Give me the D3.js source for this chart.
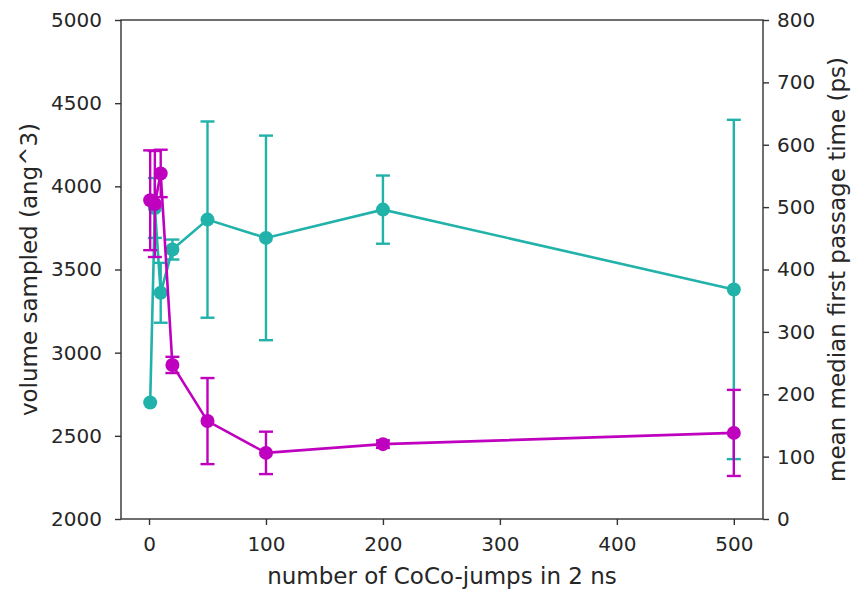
<!DOCTYPE html>
<html>
<head>
<meta charset="utf-8">
<script src="https://cdn.jsdelivr.net/npm/d3@7"></script>
<style>
  body { margin: 0; background: #fff; }
  svg text { font-family: "DejaVu Sans", sans-serif; fill: #262626; }
  .axis path, .axis line { stroke: #333; stroke-width: 1.4; }
</style>
</head>
<body>
<svg id="chart"></svg>
<script>
// CoCo-jumps: volume sampled (left axis) and mean first passage time (right axis)
const jumps = [1, 5, 10, 20, 50, 100, 200, 500];
const volume = [2700, 3870, 3360, 3620, 3800, 3690, 3860, 3380];
const volumeErr = [0, 180, 180, 60, 590, 615, 205, 1020];
const passage = [511, 505, 554, 247, 157, 106, 120, 138];
const passageErr = [80, 85, 38, 13, 69, 34, 6, 69];

const xTicks = [0, 100, 200, 300, 400, 500];
const yLeftTicks = [2000, 2500, 3000, 3500, 4000, 4500, 5000];
const yRightTicks = [0, 100, 200, 300, 400, 500, 600, 700, 800];

const width = 858;
const height = 591;
const margin = { left: 121, right: 95, top: 20, bottom: 72 };
const tickFont = "20px";
const labelFont = "23px";

const svg = d3.select("#chart")
  .attr("width", width)
  .attr("height", height);

// matplotlib style 5% padding on x
const x = d3.scaleLinear()
  .domain([-23.95, 524.95])
  .range([margin.left, width - margin.right]);

const yLeft = d3.scaleLinear()
  .domain([2000, 5000])
  .range([height - margin.bottom, margin.top]);

const yRight = d3.scaleLinear()
  .domain([0, 800])
  .range([height - margin.bottom, margin.top]);

const teal = "#21b2a9";
const magenta = "#bf00bf";

// frame
svg.append("rect")
  .attr("x", margin.left)
  .attr("y", margin.top)
  .attr("width", width - margin.left - margin.right)
  .attr("height", height - margin.top - margin.bottom)
  .attr("fill", "none")
  .attr("stroke", "#333")
  .attr("stroke-width", 1.4);

// axes
svg.append("g")
  .attr("class", "axis")
  .attr("transform", `translate(0,${height - margin.bottom})`)
  .call(d3.axisBottom(x).tickValues(xTicks).tickSize(6).tickPadding(12))
  .call(g => g.select(".domain").remove())
  .selectAll("text").style("font-size", tickFont);

svg.append("g")
  .attr("class", "axis")
  .attr("transform", `translate(${margin.left},0)`)
  .call(d3.axisLeft(yLeft).tickValues(yLeftTicks).tickFormat(d3.format("d")).tickSize(6).tickPadding(13))
  .call(g => g.select(".domain").remove())
  .selectAll("text").style("font-size", tickFont);

svg.append("g")
  .attr("class", "axis")
  .attr("transform", `translate(${width - margin.right},0)`)
  .call(d3.axisRight(yRight).tickValues(yRightTicks).tickSize(6).tickPadding(8))
  .call(g => g.select(".domain").remove())
  .selectAll("text").style("font-size", tickFont);

// axis labels
svg.append("text")
  .attr("x", (x.range()[0] + x.range()[1]) / 2)
  .attr("y", height - 7)
  .attr("text-anchor", "middle")
  .style("font-size", labelFont)
  .text("number of CoCo-jumps in 2 ns");

svg.append("text")
  .attr("transform", `translate(29,${(margin.top + height - margin.bottom) / 2}) rotate(-90)`)
  .attr("text-anchor", "middle")
  .attr("dy", "0.35em")
  .style("font-size", labelFont)
  .text("volume sampled (ang^3)");

svg.append("text")
  .attr("transform", `translate(837,${(margin.top + height - margin.bottom) / 2}) rotate(-90)`)
  .attr("text-anchor", "middle")
  .attr("dy", "0.35em")
  .style("font-size", labelFont)
  .text("mean median first passage time (ps)");

// draw one series with error bars
function drawSeries(vals, errs, yScale, color) {
  const pts = jumps.map((j, i) => ({ x: j, y: vals[i], e: errs[i] }));
  const g = svg.append("g");
  const cap = 7;

  const bars = g.selectAll(".err")
    .data(pts.filter(d => d.e > 0))
    .enter()
    .append("g")
    .attr("stroke", color)
    .attr("stroke-width", 2.4);

  bars.append("line")
    .attr("x1", d => x(d.x)).attr("x2", d => x(d.x))
    .attr("y1", d => yScale(d.y - d.e)).attr("y2", d => yScale(d.y + d.e));
  bars.append("line")
    .attr("x1", d => x(d.x) - cap).attr("x2", d => x(d.x) + cap)
    .attr("y1", d => yScale(d.y + d.e)).attr("y2", d => yScale(d.y + d.e));
  bars.append("line")
    .attr("x1", d => x(d.x) - cap).attr("x2", d => x(d.x) + cap)
    .attr("y1", d => yScale(d.y - d.e)).attr("y2", d => yScale(d.y - d.e));

  g.append("path")
    .datum(pts)
    .attr("fill", "none")
    .attr("stroke", color)
    .attr("stroke-width", 2.6)
    .attr("d", d3.line().x(d => x(d.x)).y(d => yScale(d.y)));

  g.selectAll("circle")
    .data(pts)
    .enter()
    .append("circle")
    .attr("cx", d => x(d.x))
    .attr("cy", d => yScale(d.y))
    .attr("r", 7)
    .attr("fill", color);
}

drawSeries(volume, volumeErr, yLeft, teal);
drawSeries(passage, passageErr, yRight, magenta);
</script>
</body>
</html>
